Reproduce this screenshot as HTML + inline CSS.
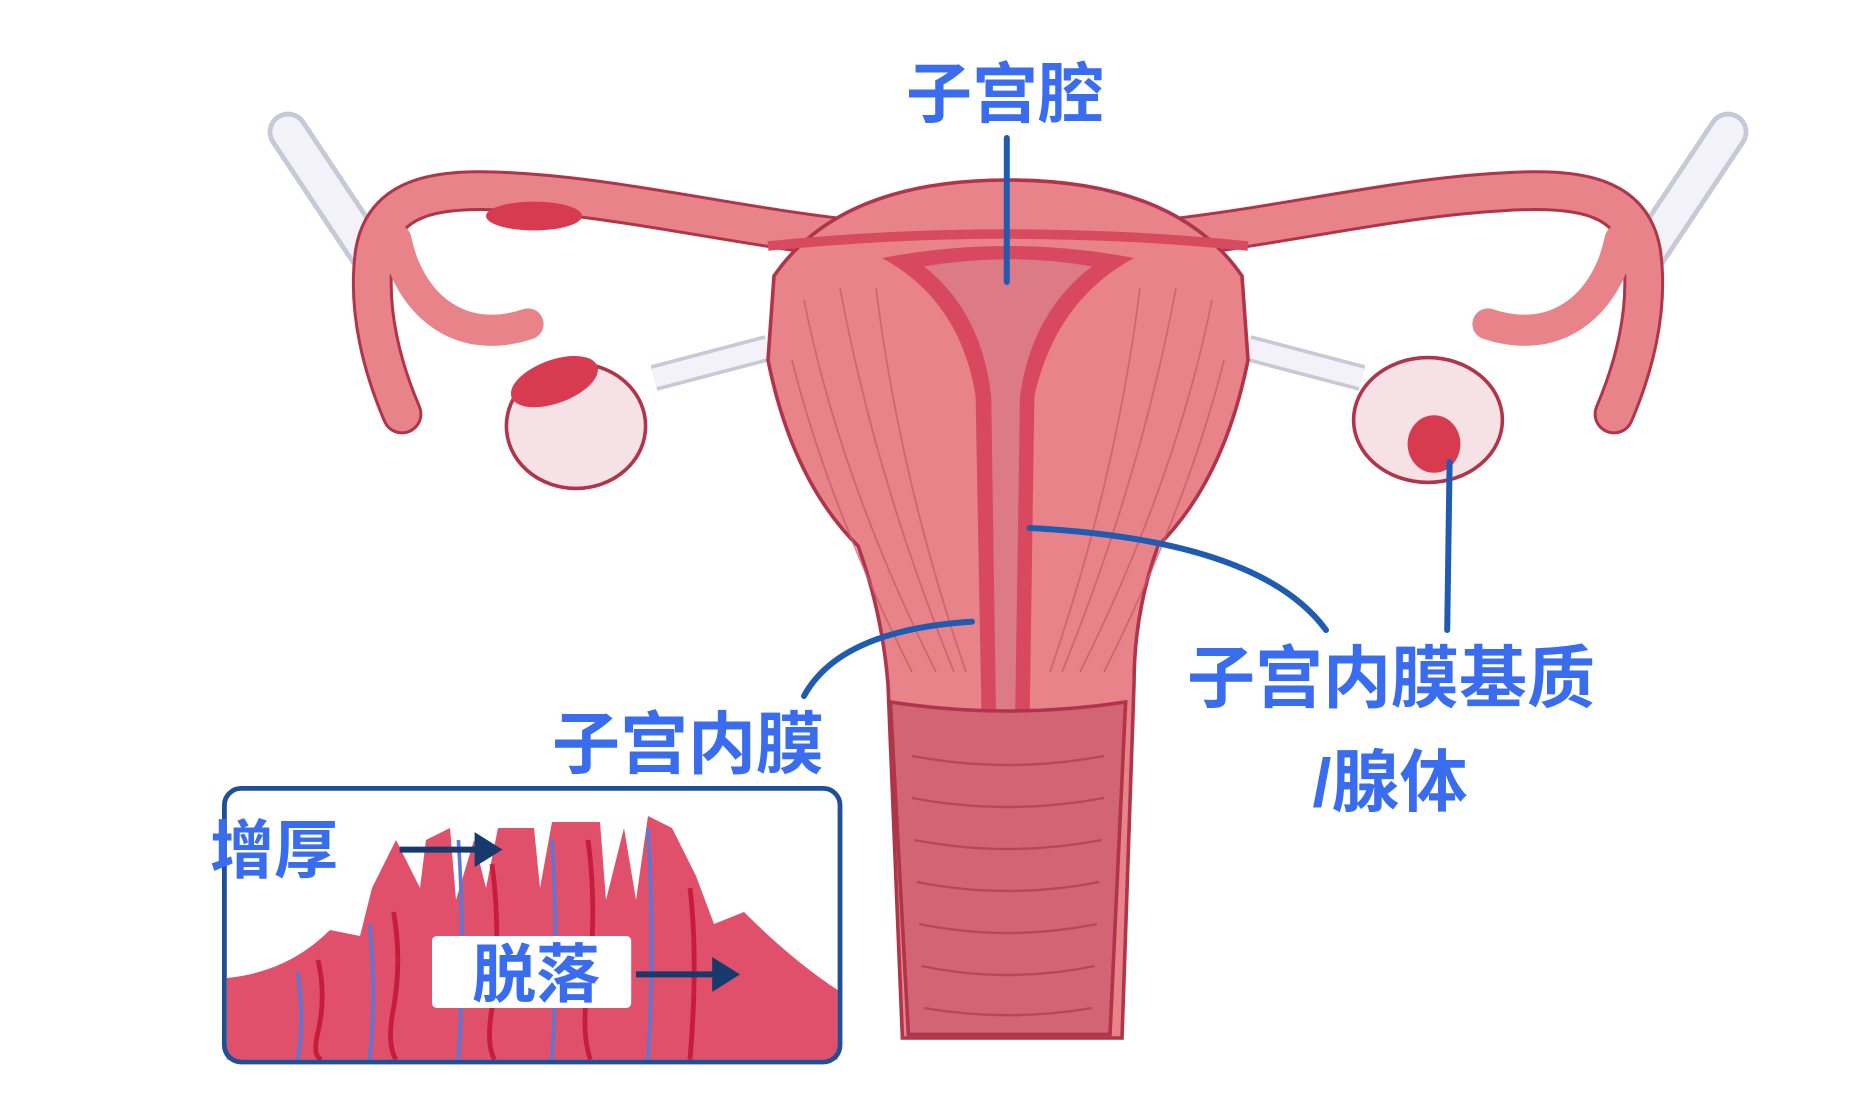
<!DOCTYPE html>
<html><head><meta charset="utf-8"><style>
html,body{margin:0;padding:0;background:#fff;width:1870px;height:1116px;overflow:hidden}
svg{position:absolute;left:0;top:0}
.t{font-family:"Liberation Sans","Noto Sans CJK SC",sans-serif;font-weight:700;fill:#3a6cf0}
</style></head><body>
<svg width="1870" height="1116" viewBox="0 0 1870 1116">
<g transform="scale(1.2)">
 <!-- ligaments -->
 <g stroke="#c8c8d8" stroke-width="34" stroke-linecap="round"><line x1="240" y1="110" x2="310" y2="215"/><line x1="1440" y1="110" x2="1370" y2="215"/></g>
 <g stroke="#f2f2f8" stroke-width="26" stroke-linecap="round"><line x1="240" y1="110" x2="310" y2="215"/><line x1="1440" y1="110" x2="1370" y2="215"/></g>
 <g stroke="#c8c8d8" stroke-width="22"><line x1="545" y1="315" x2="640" y2="290"/><line x1="1135" y1="315" x2="1040" y2="290"/></g>
 <g stroke="#f2f2f8" stroke-width="16"><line x1="545" y1="315" x2="640" y2="290"/><line x1="1135" y1="315" x2="1040" y2="290"/></g>
 <!-- tubes -->
 <g fill="none" stroke-linecap="round">
  <path d="M720,200 C620,190 520,165 430,160 C360,155 320,165 312,210 C305,260 320,310 335,345" stroke="#b0344a" stroke-width="34"/>
  <path d="M960,200 C1060,190 1160,165 1250,160 C1320,155 1360,165 1368,210 C1375,260 1360,310 1345,345" stroke="#b0344a" stroke-width="34"/>
  <path d="M720,200 C620,190 520,165 430,160 C360,155 320,165 312,210 C305,260 320,310 335,345" stroke="#e8838a" stroke-width="29"/>
  <path d="M960,200 C1060,190 1160,165 1250,160 C1320,155 1360,165 1368,210 C1375,260 1360,310 1345,345" stroke="#e8838a" stroke-width="29"/>
  <path d="M330,200 C340,250 380,290 440,270" stroke="#e8838a" stroke-width="26"/>
  <path d="M1350,200 C1340,250 1300,290 1240,270" stroke="#e8838a" stroke-width="26"/>
 </g>
 <ellipse cx="445" cy="180" rx="40" ry="12" fill="#d83a50"/>
 <!-- ovaries -->
 <ellipse cx="480" cy="355" rx="58" ry="52" fill="#f6e2e6" stroke="#b0344a" stroke-width="3"/>
 <ellipse cx="1190" cy="350" rx="62" ry="52" fill="#f6e2e6" stroke="#b0344a" stroke-width="3"/>
 <ellipse cx="462" cy="318" rx="38" ry="18" fill="#d83a50" transform="rotate(-20 462 318)"/>
 <ellipse cx="1195" cy="370" rx="22" ry="24" fill="#d83a50"/>
 <!-- uterus body -->
 <path d="M645,230 Q700,150 840,150 Q980,150 1035,230 L1040,300 Q1020,400 965,455 Q945,510 945,570 L935,865 L752,865 L740,570 Q735,510 715,455 Q660,400 640,300 Z" fill="#e8838a" stroke="#b0344a" stroke-width="3"/>
 <path d="M640,205 Q740,195 840,195 Q940,195 1040,205" fill="none" stroke="#d84a60" stroke-width="8"/>
 <!-- cavity -->
 <path d="M735,215 Q840,195 945,215 Q880,250 862,330 L858,600 L818,600 L813,330 Q800,250 735,215 Z" fill="#d8485e"/>
 <path d="M770,222 Q840,210 910,222 Q860,260 850,330 L846,595 L830,595 L826,330 Q818,260 770,222 Z" fill="#dc7a85"/>
 <!-- muscle striations -->
 <g stroke="#c85a6a" stroke-width="1.5" fill="none" opacity=".7">
  <path d="M670,250 Q700,400 780,560"/><path d="M700,240 Q730,400 795,560"/><path d="M730,240 Q750,400 805,560"/><path d="M660,300 Q690,420 760,560"/>
  <path d="M1010,250 Q980,400 900,560"/><path d="M980,240 Q950,400 885,560"/><path d="M950,240 Q930,400 875,560"/><path d="M1020,300 Q990,420 920,560"/>
 </g>
 <!-- vagina -->
 <path d="M742,585 Q840,600 938,585 L925,862 L757,862 Z" fill="#d26473" stroke="#b0344a" stroke-width="3"/>
 <g stroke="#b04a5a" stroke-width="2" fill="none">
  <path d="M760,630 Q840,645 920,630"/><path d="M760,665 Q840,680 920,665"/><path d="M762,700 Q840,715 918,700"/><path d="M764,735 Q840,750 916,735"/><path d="M766,770 Q840,785 914,770"/><path d="M768,805 Q840,820 912,805"/><path d="M770,840 Q840,852 910,840"/>
 </g>
 <!-- leader lines -->
 <g stroke="#1f5bb0" stroke-width="5" fill="none" stroke-linecap="round">
  <line x1="839" y1="115" x2="839" y2="235"/>
  <path d="M810,518 Q700,525 670,580"/>
  <path d="M858,440 Q1050,450 1105,525"/>
  <line x1="1208" y1="385" x2="1206" y2="525"/>
 </g>
 <!-- inset -->
 <rect x="187" y="657" width="513" height="228" rx="14" fill="#fff"/>
 <path d="M189,815 Q240,810 275,775 L300,780 L310,740 L330,700 L350,740 L355,700 L375,690 L380,750 L395,700 L405,740 L415,690 L445,690 L450,740 L460,685 L500,685 L505,750 L520,690 L530,750 L540,680 L560,690 L580,730 L595,770 L620,760 Q660,800 698,825 L698,883 L189,883 Z" fill="#e0506a"/>
 <g stroke="#c81c3c" stroke-width="4" fill="none">
  <path d="M265,800 Q272,830 265,860 Q260,880 268,883"/><path d="M328,760 Q335,800 328,840 Q322,870 330,883"/><path d="M410,720 Q418,780 410,840 Q405,870 412,883"/><path d="M490,700 Q498,760 490,820 Q484,860 492,883"/><path d="M575,740 Q582,800 575,883"/>
 </g>
 <g stroke="#5a78d8" stroke-width="3" fill="none">
  <path d="M248,810 Q254,850 248,883"/><path d="M308,770 Q314,830 308,883"/><path d="M382,700 Q388,790 382,883"/><path d="M460,700 Q466,790 460,883"/><path d="M540,690 Q546,790 540,883"/>
 </g>
 <rect x="187" y="657" width="513" height="228" rx="14" fill="none" stroke="#1f4f96" stroke-width="4"/>
 <rect x="360" y="780" width="166" height="60" rx="4" fill="#fff"/>
 <g stroke="#163a6e" stroke-width="5" fill="#163a6e">
  <line x1="333" y1="708" x2="400" y2="708"/><path d="M398,698 L414,708 L398,718 Z"/>
  <line x1="530" y1="812" x2="598" y2="812"/><path d="M596,802 L612,812 L596,822 Z"/>
 </g>
</g>
<text class="t" x="1005" y="117" font-size="66" text-anchor="middle">子宫腔</text>
<text class="t" x="688" y="768" font-size="68" text-anchor="middle">子宫内膜</text>
<text class="t" x="1391" y="702" font-size="68" text-anchor="middle">子宫内膜基质</text>
<text class="t" x="1390" y="806" font-size="68" text-anchor="middle">/腺体</text>
<text class="t" x="274" y="873" font-size="64" text-anchor="middle">增厚</text>
<text class="t" x="536" y="997" font-size="64" text-anchor="middle">脱落</text>
</svg>
</body></html>
